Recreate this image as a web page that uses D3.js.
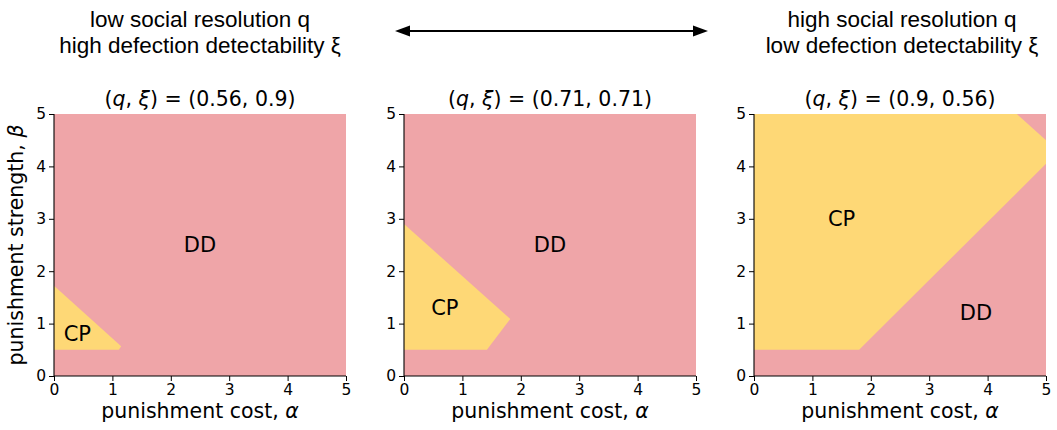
<!DOCTYPE html>
<html><head><meta charset="utf-8">
<script src="https://cdn.jsdelivr.net/npm/d3@7"></script>
<style>
body{margin:0;background:#fff;}
svg{display:block;}
text{fill:#000;}
</style></head><body>
<svg id="c" width="1057" height="430"></svg>
<script>
// ---- data ----
const panelTitles = [["0.56","0.9"],["0.71","0.71"],["0.9","0.56"]];
const ticks = [0,1,2,3,4,5];
// CP region polygons (alpha, beta) per panel
const cpRegion1 = [[0,0.5],[1.11,0.5],[1.15,0.57],[0,1.72]];
const cpRegion2 = [[0,0.5],[1.42,0.5],[1.82,1.09],[0,2.9]];
const cpRegion3 = [[0,0.5],[1.8,0.5],[5,4.05],[5,4.5],[4.5,5],[0,5]];
const cpRegions = [cpRegion1, cpRegion2, cpRegion3];
// label positions
const ddLabels = [[2.5,2.5],[2.5,2.5],[3.8,1.2]];
const cpLabels = [[0.4,0.8],[0.7,1.3],[1.5,3.0]];
const headerLeft = ["low social resolution q","high defection detectability ξ"];
const headerRight = ["high social resolution q","low defection detectability ξ"];

const pink = "#efa5a8", yellow = "#fed876";
const svg = d3.select("#c");
const panelX = [54, 404, 754];
const W = 292, panelTop = 114, H = 262;
const font = "DejaVu Sans";

panelTitles.forEach((t, i) => {
  const g = svg.append("g").attr("transform", `translate(${panelX[i]},${panelTop})`);
  const x = d3.scaleLinear().domain([0,5]).range([0,W]);
  const y = d3.scaleLinear().domain([0,5]).range([H,0]);
  g.append("rect").attr("x", x(0)).attr("y", y(5)).attr("width", x(5)-x(0)).attr("height", y(0)-y(5)).attr("fill", pink);
  g.append("path").attr("d", d3.line().x(d=>x(d[0])).y(d=>y(d[1]))(cpRegions[i]) + "Z").attr("fill", yellow);

  const xa = g.append("g").attr("transform", `translate(0,${H})`).call(d3.axisBottom(x).tickValues(ticks).tickSize(5).tickPadding(3).tickFormat(d3.format("d")));
  const ya = g.append("g").call(d3.axisLeft(y).tickValues(ticks).tickSize(5).tickPadding(3).tickFormat(d3.format("d")));
  [xa, ya].forEach(a => {
    a.select(".domain").attr("stroke","#000").attr("stroke-width",1.1);
    a.selectAll(".tick line").attr("stroke","#000").attr("stroke-width",1);
    a.selectAll(".tick text").attr("font-family", font).attr("font-size", 15.5).attr("fill","#000");
  });
  xa.select(".domain").attr("d", `M0,0H${W}`);
  ya.select(".domain").attr("d", `M0,${H}V0`);

  // labels in regions
  g.append("text").attr("x", x(ddLabels[i][0])).attr("y", y(ddLabels[i][1])).attr("text-anchor","middle").attr("dominant-baseline","central")
    .attr("font-family", font).attr("font-size", 21).text("DD");
  g.append("text").attr("x", x(cpLabels[i][0])).attr("y", y(cpLabels[i][1])).attr("text-anchor","middle").attr("dominant-baseline","central")
    .attr("font-family", font).attr("font-size", 21).text("CP");

  // title
  const tt = g.append("text").attr("x", W/2).attr("y", -8).attr("text-anchor","middle").attr("font-family", font).attr("font-size", 20.5);
  tt.append("tspan").text("(");
  tt.append("tspan").attr("font-style","italic").text("q");
  tt.append("tspan").text(", ");
  tt.append("tspan").attr("font-style","italic").text("ξ");
  tt.append("tspan").text(") = (" + t[0] + ", " + t[1] + ")");

  // x label
  const xl = g.append("text").attr("x", W/2).attr("y", H + 42).attr("text-anchor","middle").attr("font-family", font).attr("font-size", 20.5);
  xl.append("tspan").text("punishment cost, ");
  xl.append("tspan").attr("font-style","italic").text("α");
  if (i === 0) {
    const yl = g.append("text").attr("transform", `translate(-31,${H/2}) rotate(-90)`).attr("text-anchor","middle").attr("font-family", font).attr("font-size", 20.5);
    yl.append("tspan").text("punishment strength, ");
    yl.append("tspan").attr("font-style","italic").text("β");
  }
});

// headers
const hfont = "Liberation Sans";
[[200, headerLeft],[902, headerRight]].forEach(([cx, lines]) => {
  lines.forEach((s, j) => {
    svg.append("text").attr("x", cx).attr("y", 27 + j*26).attr("text-anchor","middle")
      .attr("font-family", hfont).attr("font-size", 22.5).text(s);
  });
});
// double arrow
const ax1 = 395, ax2 = 708, ay = 31;
svg.append("line").attr("x1", ax1+12).attr("x2", ax2-12).attr("y1", ay).attr("y2", ay).attr("stroke","#000").attr("stroke-width",2);
svg.append("path").attr("d", `M${ax1},${ay} L${ax1+15},${ay-5.5} L${ax1+15},${ay+5.5} Z`).attr("fill","#000");
svg.append("path").attr("d", `M${ax2},${ay} L${ax2-15},${ay-5.5} L${ax2-15},${ay+5.5} Z`).attr("fill","#000");
</script>
</body></html>
